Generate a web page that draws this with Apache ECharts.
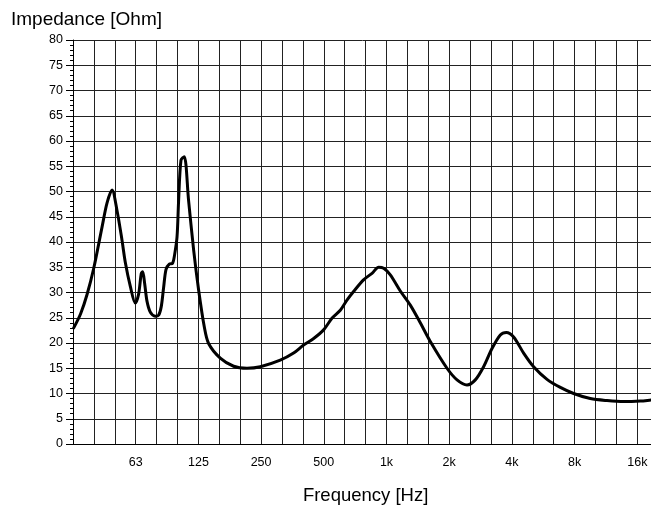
<!DOCTYPE html>
<html>
<head>
<meta charset="utf-8">
<script src="https://cdn.jsdelivr.net/npm/echarts@6/dist/echarts.min.js"></script>
<style>
html,body{margin:0;padding:0;background:#fff;}
#chart{width:651px;height:505px;}
</style>
</head>
<body>
<div id="chart"></div>
<script>
// Frequency (Hz) and impedance (Ohm)
var frequencies = [31.5, 34, 36.5, 39.3, 43.1, 45.5, 48.1, 50.8, 53.7, 55.7, 58.9, 62.2, 64.5, 66.5, 67.5, 69, 70.8, 73.5, 77.6, 80.5, 82.9, 85.1, 87.4, 90.6, 94, 96.1, 98.7, 100.4, 103.1, 106.9, 112.1, 118.6, 125.3, 133.4, 139.9, 159.2, 184.5, 213.9, 247.9, 309, 358, 400, 447, 499, 547, 600, 646, 695, 776, 852, 917, 969, 1043, 1165, 1301, 1453, 1623, 1952, 2181, 2435, 2669, 2926, 3210, 3519, 3761, 4076, 4553, 5085, 5896, 6832, 7912, 9516, 11446, 13751, 16546, 18675, 20000];
var impedance = [23.0, 25.8, 29.6, 34.8, 43.0, 47.7, 50.3, 46.3, 40.4, 36.0, 31.2, 27.9, 29.6, 33.8, 34.1, 31.8, 28.3, 26.1, 25.3, 25.5, 27.2, 31.0, 34.6, 35.6, 35.8, 37.5, 41.0, 48.0, 56.2, 56.9, 48.3, 38.4, 30.5, 23.2, 19.9, 17.0, 15.4, 15.0, 15.3, 16.6, 18.0, 19.6, 20.9, 22.6, 24.9, 26.5, 28.5, 30.2, 32.5, 33.8, 35.0, 34.8, 33.5, 30.3, 27.5, 24.0, 20.3, 15.0, 12.7, 11.7, 12.7, 15.3, 18.9, 21.6, 22.1, 21.2, 18.0, 15.3, 12.8, 11.2, 10.0, 9.0, 8.6, 8.4, 8.5, 8.7, 8.8];
// Third-octave index relative to 1 kHz -> tick label
var tickIndices = [-12, -9, -6, -3, 0, 3, 6, 9, 12];
var tickLabels = ['63', '125', '250', '500', '1k', '2k', '4k', '8k', '16k'];
var yTicks = {min: 0, max: 80, step: 5};

function toIndex(f) { return 3 * Math.log2(f / 1000); }
var seriesData = frequencies.map(function (f, i) { return [toIndex(f), impedance[i]]; });
var labelMap = {};
tickIndices.forEach(function (v, i) { labelMap[v] = tickLabels[i]; });

var chart = echarts.init(document.getElementById('chart'), null, {renderer: 'canvas'});
var font = 'Liberation Sans, Arial, Helvetica, sans-serif';
chart.setOption({
  animation: false,
  backgroundColor: '#fff',
  textStyle: {fontFamily: font},
  title: {
    text: 'Impedance [Ohm]',
    left: 6, top: 5,
    textStyle: {fontSize: 19, fontWeight: 'normal', color: '#000', fontFamily: font}
  },
  grid: {left: 73, top: 40, height: 404, width: 585.2, containLabel: false, outerBoundsMode: 'none'},
  xAxis: {
    type: 'value',
    min: -15, max: 13, interval: 1,
    name: 'Frequency [Hz]',
    nameLocation: 'middle',
    nameGap: 42,
    nameTextStyle: {fontSize: 18.5, color: '#000', fontFamily: font},
    axisLine: {show: true, onZero: false, lineStyle: {color: '#000', width: 1}},
    axisTick: {show: false},
    axisLabel: {
      margin: 12, fontSize: 12.5, color: '#000', fontFamily: font,
      showMinLabel: true, showMaxLabel: true,
      formatter: function (v) { var k = Math.round(v); return labelMap[k] !== undefined ? labelMap[k] : ''; }
    },
    splitLine: {show: true, lineStyle: {color: '#222', width: 1}}
  },
  yAxis: {
    type: 'value',
    min: yTicks.min, max: yTicks.max, interval: yTicks.step,
    axisLine: {show: true, onZero: false, lineStyle: {color: '#000', width: 1}},
    axisTick: {show: true, length: 7, lineStyle: {color: '#000'}},
    minorTick: {show: true, splitNumber: 5, length: 3, lineStyle: {color: '#000'}},
    axisLabel: {margin: 10, fontSize: 12.5, color: '#000', fontFamily: font},
    splitLine: {show: true, lineStyle: {color: '#222', width: 1}}
  },
  series: [{
    type: 'line',
    data: seriesData,
    showSymbol: false,
    smooth: 0.3,
    lineStyle: {color: '#000', width: 3, join: 'round', cap: 'round'},
    z: 5
  }]
});
</script>
</body>
</html>
